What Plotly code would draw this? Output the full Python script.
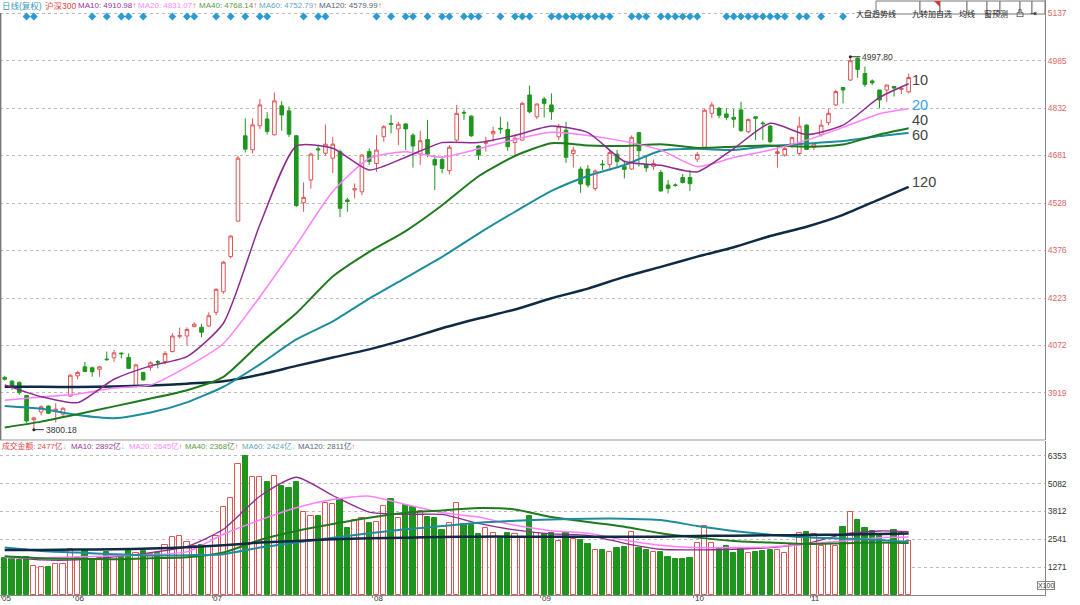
import plotly.graph_objects as go

# === 沪深300 日线(复权) + 成交金额 ===
month_labels = ["05", "06", "07", "08", "09", "10", "11"]
month_start = [0, 10, 29, 51, 74, 95, 111]

opens = [3968, 3956, 3952, 3910, 3832, 3857, 3876, 3860, 3850, 3908,
         3973, 4002, 3999, 3994, 4027, 4031, 4046, 4032, 3940, 3984,
         4000, 4019, 4019, 4051, 4100, 4101, 4131, 4129, 4133, 4177,
         4243, 4356, 4470, 4744, 4699, 4776, 4798, 4747, 4840, 4824,
         4744, 4529, 4602, 4702, 4688, 4672, 4693, 4538, 4570, 4564,
         4693, 4655, 4741, 4783, 4766, 4782, 4746, 4685, 4732, 4668,
         4668, 4632, 4730, 4819, 4807, 4711, 4720, 4750, 4768, 4764,
         4722, 4730, 4875, 4805, 4862, 4843, 4741, 4762, 4687, 4637,
         4637, 4575, 4653, 4652, 4685, 4645, 4637, 4754, 4652, 4645,
         4626, 4586, 4586, 4610, 4610, 4669, 4707, 4816, 4832, 4814,
         4803, 4827, 4757, 4805, 4785, 4775, 4687, 4682, 4709, 4687,
         4778, 4707, 4748, 4786, 4843, 4899, 4923, 4993, 4944, 4920,
         4891, 4891, 4902, 4893, 4885]
highs = [3973, 3960, 3955, 3912, 3842, 3878, 3878, 3885, 3872, 3978,
         3989, 4018, 4003, 4005, 4051, 4056, 4048, 4045, 4012, 3985,
         4020, 4024, 4052, 4110, 4128, 4129, 4145, 4140, 4177, 4254,
         4342, 4425, 4680, 4800, 4800, 4862, 4820, 4883, 4855, 4838,
         4747, 4594, 4690, 4715, 4780, 4740, 4700, 4545, 4591, 4685,
         4704, 4746, 4778, 4811, 4789, 4784, 4752, 4760, 4795, 4682,
         4679, 4714, 4843, 4827, 4810, 4714, 4741, 4773, 4805, 4789,
         4750, 4853, 4905, 4848, 4869, 4880, 4782, 4789, 4709, 4645,
         4650, 4636, 4666, 4698, 4698, 4661, 4745, 4757, 4682, 4668,
         4634, 4602, 4591, 4621, 4634, 4692, 4830, 4852, 4837, 4832,
         4830, 4853, 4800, 4805, 4790, 4778, 4711, 4709, 4741, 4805,
         4781, 4720, 4796, 4830, 4891, 4901, 4997.80, 4996, 4966, 4925,
         4891, 4907, 4904, 4901, 4944]
lows = [3958, 3928, 3912, 3822, 3800.18, 3846, 3850, 3823, 3837, 3905,
        3962, 3985, 3970, 3970, 4022, 4018, 4029, 3997, 3936, 3958,
        3990, 3997, 4010, 4048, 4093, 4072, 4129, 4097, 4130, 4167,
        4236, 4350, 4468, 4690, 4687, 4765, 4748, 4745, 4760, 4740,
        4515, 4500, 4574, 4666, 4680, 4624, 4483, 4500, 4543, 4553,
        4650, 4628, 4725, 4752, 4714, 4698, 4642, 4650, 4675, 4570,
        4623, 4620, 4725, 4795, 4740, 4666, 4693, 4725, 4750, 4696,
        4682, 4728, 4816, 4797, 4803, 4795, 4730, 4657, 4642, 4561,
        4578, 4567, 4634, 4632, 4645, 4607, 4634, 4645, 4628, 4634,
        4564, 4559, 4580, 4591, 4567, 4660, 4700, 4800, 4800, 4794,
        4770, 4758, 4752, 4730, 4730, 4720, 4642, 4677, 4704, 4682,
        4698, 4698, 4741, 4778, 4839, 4848, 4920, 4930, 4901, 4907,
        4832, 4853, 4870, 4878, 4880]
closes = [3962, 3940, 3919, 3828, 3838, 3874, 3853, 3866, 3869, 3975,
          3984, 3987, 3986, 4002, 4025, 4047, 4044, 3997, 4008, 3960,
          4015, 4017, 4045, 4101, 4102, 4122, 4139, 4113, 4166, 4251,
          4338, 4422, 4672, 4701, 4779, 4843, 4758, 4856, 4811, 4749,
          4520, 4546, 4685, 4699, 4717, 4717, 4511, 4533, 4574, 4682,
          4661, 4698, 4773, 4781, 4781, 4766, 4711, 4728, 4685, 4650,
          4639, 4707, 4816, 4817, 4744, 4682, 4722, 4758, 4766, 4709,
          4736, 4848, 4821, 4846, 4848, 4821, 4773, 4675, 4698, 4589,
          4586, 4631, 4651, 4690, 4661, 4636, 4739, 4696, 4641, 4655,
          4567, 4575, 4585, 4594, 4590, 4684, 4826, 4843, 4810, 4803,
          4797, 4760, 4796, 4800, 4783, 4725, 4693, 4703, 4738, 4775,
          4700, 4718, 4778, 4816, 4886, 4891, 4985, 4957, 4909, 4914,
          4859, 4907, 4897, 4896, 4931]

# 成交金额 (亿)
volume = [1700, 1650, 1580, 1720, 1345, 1300, 1300, 1436, 1413,
          2118, 1710, 2012, 1634, 1700, 1950, 1800, 1790, 2100, 1900,
          2000, 1870, 1900, 2300, 2650, 2700, 2400, 2250, 2300, 2250,
          2700, 4025, 4433, 5991, 6355, 5386, 5371, 5144, 5447, 4962,
          4887, 5144, 3783, 3601, 3601, 4206, 4130, 4388, 3071, 3419,
          3525, 3298, 3329, 4055, 4357, 3525, 4085, 4025, 3828, 3556,
          3525, 2966, 3268, 4206, 3223, 3177, 2769, 3071, 2844, 2663,
          2844, 2769, 2617, 3601, 2844, 2769, 2814, 2466, 2875, 2572,
          2496, 2315, 2058, 2058, 1967, 2164, 2209, 2875, 2164, 2058,
          1967, 1967, 1740, 1664, 1664, 1710, 2360, 3147, 2391, 2164,
          2239, 1937, 2164, 1937, 1967, 2012, 2043, 2058, 1937, 2270,
          2814, 2875, 2769, 2239, 2391, 2239, 3117, 3783, 3419, 3071,
          2920, 2799, 2391, 2966, 2814, 2477]

# moving averages at every 5th bar
ma_idx = list(range(0, 121, 5)) + [124]
ma10 = [3944, 3906, 3887, 3962, 4005, 4035, 4142, 4458, 4711, 4704, 4634, 4675, 4722,
        4722, 4745, 4775, 4754, 4662, 4649, 4628, 4703, 4784, 4748, 4778, 4867, 4911]
ma20 = [3895, 3905, 3915, 3934, 3944, 4002, 4077, 4227, 4393, 4565, 4671, 4693, 4675,
        4702, 4732, 4755, 4745, 4726, 4698, 4645, 4674, 4698, 4730, 4771, 4815, 4831]
ma40 = [3807, 3826, 3850, 3875, 3900, 3927, 3970, 4077, 4174, 4292, 4371, 4438, 4521,
        4614, 4679, 4720, 4713, 4711, 4717, 4705, 4709, 4713, 4709, 4716, 4748, 4768]
ma60 = [3876, 3867, 3847, 3837, 3855, 3888, 3938, 4010, 4090, 4148, 4221, 4288, 4355,
        4430, 4500, 4567, 4615, 4650, 4696, 4702, 4698, 4711, 4719, 4727, 4743, 4753]
ma120 = [3938, 3938, 3937, 3939, 3942, 3948, 3956, 3977, 4005, 4032, 4058, 4090, 4126,
         4157, 4186, 4222, 4253, 4291, 4323, 4356, 4386, 4422, 4452, 4490, 4540, 4580]

vma10 = [1755, 1604, 1604, 1740, 1937, 2209, 2996, 4509, 5371, 4539, 3783, 3677, 3677,
         3268, 2966, 2784, 2724, 2360, 2088, 2057, 2088, 2163, 2345, 2769, 2920, 2892]
vma20 = [1710, 1695, 1740, 1785, 1846, 1967, 2769, 3419, 3979, 4357, 4509, 4130, 3752,
         3556, 3177, 2935, 2814, 2512, 2270, 2164, 2164, 2194, 2330, 2466, 2617, 2645]
vma40 = [1770, 1679, 1649, 1634, 1679, 1725, 1937, 2512, 2920, 3238, 3525, 3752, 3858,
         3964, 3904, 3556, 3329, 3117, 2814, 2617, 2466, 2391, 2330, 2360, 2391, 2368]
vma60 = [2164, 2012, 1937, 1861, 1800, 1816, 1861, 2164, 2391, 2617, 2814, 2996, 3147,
         3298, 3389, 3450, 3480, 3480, 3419, 3147, 2920, 2754, 2633, 2572, 2512, 2424]
vma120 = [2058, 2058, 2073, 2088, 2118, 2179, 2270, 2391, 2466, 2542, 2587, 2617, 2648,
          2663, 2663, 2663, 2663, 2663, 2663, 2693, 2708, 2723, 2739, 2754, 2784, 2811]

# bars flagged with a blue marker along the top
signal_idx = [3, 4, 12, 14, 16, 17, 19, 23, 25, 26, 29, 31, 33, 35, 36, 41, 43, 44,
              51, 53, 55, 56, 58, 60, 61, 63, 64, 65, 68, 70, 71, 72, 75, 76, 77, 78,
              79, 80, 81, 82, 83, 86, 87, 88, 90, 91, 92, 93, 94, 95, 99, 100, 101,
              102, 103, 104, 105, 106, 107, 109, 110, 112, 115]

price_ticks = [3919, 4072, 4223, 4376, 4528, 4681, 4832, 4985, 5137]
vol_ticks = [1271, 2541, 3812, 5082, 6353]

# === style ===
RED = "#e05555"
GREEN = "#1e961e"
C10, C20, C40, C60, C120 = "#8e2a8e", "#ff7fff", "#1f7a1f", "#1e8c9c", "#0f2a44"
FONT = "Liberation Sans, Arial, Noto Sans CJK SC, sans-serif"

PW, PH = 1045, 595   # plot area in px


def px(x):
    return x / PW


def py(y):
    return 1 - y / PH


idx = list(range(len(closes)))
up = [c >= o for o, c in zip(opens, closes)]

fig = go.Figure()

# volume bars
fig.add_trace(go.Bar(
    x=idx, y=volume, width=0.72, xaxis="x", yaxis="y",
    marker=dict(color=["white" if u else GREEN for u in up],
                line=dict(color=[RED if u else GREEN for u in up], width=1)),
    hoverinfo="skip", showlegend=False))

for vals, col, w in [(vma10, C10, 1.3), (vma20, C20, 1.5), (vma40, C40, 2),
                     (vma60, C60, 2), (vma120, C120, 2.5)]:
    fig.add_trace(go.Scatter(x=ma_idx, y=vals, mode="lines", xaxis="x", yaxis="y",
                             line=dict(color=col, width=w, shape="spline", smoothing=0.6),
                             hoverinfo="skip", showlegend=False))

# candles
fig.add_trace(go.Candlestick(
    x=idx, open=opens, high=highs, low=lows, close=closes, xaxis="x2", yaxis="y2",
    increasing=dict(line=dict(color=RED, width=1), fillcolor="white"),
    decreasing=dict(line=dict(color=GREEN, width=1), fillcolor=GREEN),
    whiskerwidth=0, hoverinfo="skip", showlegend=False))

for vals, col, w in [(ma120, C120, 2.5), (ma60, C60, 2), (ma40, C40, 2),
                     (ma20, C20, 1.5), (ma10, C10, 1.5)]:
    fig.add_trace(go.Scatter(x=ma_idx, y=vals, mode="lines", xaxis="x2", yaxis="y2",
                             line=dict(color=col, width=w, shape="spline", smoothing=0.6),
                             hoverinfo="skip", showlegend=False))

fig.add_trace(go.Scatter(x=signal_idx, y=[5127] * len(signal_idx), mode="markers",
                         xaxis="x2", yaxis="y2",
                         marker=dict(symbol="diamond", size=6, color="#2b9bd3"),
                         hoverinfo="skip", showlegend=False))

lo_i = lows.index(min(lows))
hi_i = highs.index(max(highs))
fig.add_trace(go.Scatter(x=[lo_i, hi_i], y=[lows[lo_i], highs[hi_i]], mode="markers",
                         xaxis="x2", yaxis="y2", marker=dict(size=3, color="#222"),
                         hoverinfo="skip", showlegend=False))

ann = []
for i, v in [(lo_i, lows[lo_i]), (hi_i, highs[hi_i])]:
    ann.append(dict(x=i, y=v, xref="x2", yref="y2", text=f"{v:.2f}", showarrow=True,
                    arrowhead=0, arrowwidth=1, arrowcolor="#333", ax=10, ay=0,
                    xanchor="left", font=dict(size=8.5, color="#333", family=FONT)))

# month labels just under the bottom axis
for m, lab in zip(month_start, month_labels):
    ann.append(dict(x=m - 0.5, y=1 - 604 / PH, xref="x", yref="paper", text=lab,
                    showarrow=False, xanchor="left", yanchor="bottom", borderpad=0,
                    font=dict(size=8, color="#333", family=FONT)))

# header legends
head = [(0, 8.5, "<span style='color:#3a9bc0'>日线(复权)</span>"),
        (43, 8.5, "<span style='color:#e04848'>沪深300</span>"),
        (76, 8, "<span style='color:#993399'>MA10: 4910.98</span><span style='color:#ff6060'>↑</span>"),
        (136, 8, "<span style='color:#ff88ff'>MA20: 4831.07</span><span style='color:#ff6060'>↑</span>"),
        (197, 8, "<span style='color:#5f9a45'>MA40: 4768.14</span><span style='color:#ff6060'>↑</span>"),
        (257, 8, "<span style='color:#5fa8b8'>MA60: 4752.79</span><span style='color:#ff6060'>↑</span>"),
        (317, 8, "<span style='color:#556677'>MA120: 4579.99</span><span style='color:#ff6060'>↑</span>")]
for x, fs, t in head:
    ann.append(dict(x=px(x), y=py(6), xref="paper", yref="paper", text=t, showarrow=False,
                    xanchor="left", yanchor="middle", font=dict(size=fs, family=FONT)))

vhead = [(0, "<span style='color:#e04848'>成交金额: 2477亿</span><span style='color:#55c8ee'>↓</span>"),
         (69, "<span style='color:#993399'>MA10: 2892亿</span><span style='color:#55c8ee'>↓</span>"),
         (127, "<span style='color:#ff88ff'>MA20: 2645亿</span><span style='color:#ff6060'>↑</span>"),
         (183, "<span style='color:#5f9a45'>MA40: 2368亿</span><span style='color:#ff6060'>↑</span>"),
         (240, "<span style='color:#5fa8b8'>MA60: 2424亿</span><span style='color:#55c8ee'>↓</span>"),
         (296, "<span style='color:#556677'>MA120: 2811亿</span><span style='color:#ff6060'>↑</span>")]
for x, t in vhead:
    ann.append(dict(x=px(x), y=py(446), xref="paper", yref="paper", text=t, showarrow=False,
                    xanchor="left", yanchor="middle", font=dict(size=7.8, family=FONT)))

# MA period labels at line ends
for lab, y, col in [("10", 80, "#444"), ("20", 105, "#3aa0f0"), ("40", 120, "#444"),
                    ("60", 135, "#444"), ("120", 182, "#444")]:
    ann.append(dict(x=px(910), y=py(y), xref="paper", yref="paper", text=lab,
                    showarrow=False, xanchor="left", yanchor="middle",
                    font=dict(size=14.5, color=col, family=FONT)))

# toolbar buttons
buttons = [("大盘趋势线", 876, 920), ("九转", 920, 940), ("加自选", 940, 967),
           ("均线", 967, 987), ("窗", 987, 1000), ("预测", 1000, 1020),
           ("凸", 1020, 1032), ("⇥", 1032, 1045)]
shapes = []
for lab, x0, x1 in buttons:
    shapes.append(dict(type="rect", xref="paper", yref="paper", x0=px(x0), x1=px(x1),
                       y0=py(14), y1=py(1), line=dict(color="#777", width=1),
                       fillcolor="white", layer="above"))
    ann.append(dict(x=px((x0 + x1) / 2), y=py(7.5), xref="paper", yref="paper", text=lab,
                    showarrow=False, font=dict(size=8, color="#222", family=FONT)))
shapes.append(dict(type="path", xref="paper", yref="paper",
                   path=f"M {px(934)} {py(1)} L {px(940)} {py(1)} L {px(940)} {py(7)} Z",
                   fillcolor="#e03030", line=dict(width=0), layer="above"))

ann.append(dict(x=px(1055), y=py(590), xref="paper", yref="paper", text="X100",
                showarrow=False, font=dict(size=7, color="#333", family=FONT),
                bordercolor="#888", borderwidth=1, borderpad=0))

shapes.append(dict(type="line", xref="paper", yref="paper", x0=0, x1=1,
                   y0=py(440), y1=py(440), line=dict(color="#999", width=1)))
shapes.append(dict(type="line", xref="paper", yref="paper", x0=0.0006, x1=0.0006,
                   y0=py(13), y1=py(440), line=dict(color="#777", width=1.5)))

x_range = [-4.7 / 7.29, (PW - 4.7) / 7.29]
axis_font = dict(size=8.5, color="#333", family=FONT)

fig.update_layout(
    width=1080, height=605, template="none",
    paper_bgcolor="white", plot_bgcolor="white",
    margin=dict(l=0, r=35, t=0, b=10, autoexpand=False),
    bargap=0, showlegend=False,
    xaxis=dict(domain=[0, 1], range=x_range, anchor="y",
               tickvals=[m - 0.5 for m in month_start], showticklabels=False,
               ticks="outside", ticklen=2, tickcolor="#888",
               showline=True, linecolor="#888", linewidth=1,
               showgrid=False, zeroline=False, automargin=False),
    xaxis2=dict(domain=[0, 1], matches="x", anchor="y2", showticklabels=False,
                showgrid=False, zeroline=False, showline=False,
                rangeslider=dict(visible=False)),
    yaxis=dict(domain=[0, py(441)], range=[0, (PH - 441) * 45.62], anchor="x",
               side="right", tickvals=vol_ticks, tickfont=axis_font, ticks="",
               showgrid=True, gridcolor="#bbb", griddash="dot", gridwidth=1,
               showline=True, linecolor="#888", zeroline=False, automargin=False),
    yaxis2=dict(domain=[py(440), 1], range=[3767, 5180], anchor="x2",
                side="right", tickvals=price_ticks,
                tickfont=dict(size=8.5, color="#e06666", family=FONT), ticks="",
                showgrid=True, gridcolor="#bbb", griddash="dot", gridwidth=1,
                showline=True, linecolor="#888", zeroline=False, automargin=False),
    annotations=ann, shapes=shapes,
)

fig.write_html("out.html", config={"displayModeBar": False},
               post_script="document.body.style.margin='0';document.body.style.padding='0';")
